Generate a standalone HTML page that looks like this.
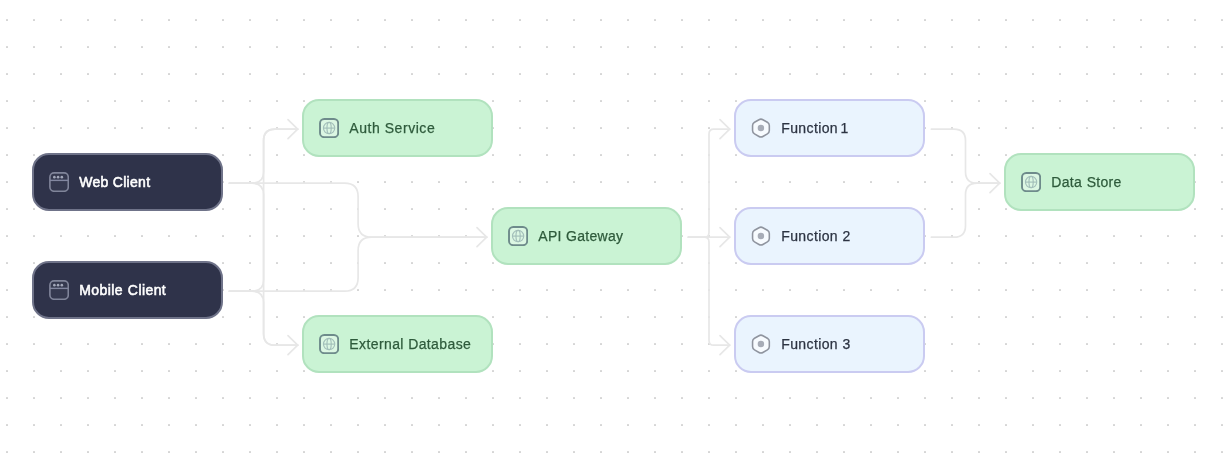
<!DOCTYPE html>
<html lang="en">
<head>
<meta charset="utf-8">
<title>Architecture Diagram</title>
<style>
html,body{margin:0;padding:0;}
body{width:1226px;height:453px;overflow:hidden;background:#fff;font-family:"Liberation Sans",Arial,sans-serif;position:relative;}
#canvas{position:absolute;left:0;top:0;width:1226px;height:453px;overflow:hidden;background-color:#fff;
}
svg.edges{position:absolute;left:0;top:0;width:1226px;height:453px;}
svg.edges path{fill:none;stroke:#e7e7e7;stroke-width:1.7;stroke-linecap:round;stroke-linejoin:round;}
.node{position:absolute;box-sizing:border-box;width:191px;height:58px;border-radius:17px;border:2px solid;
 display:flex;align-items:center;padding-left:15px;font-size:14px;line-height:16px;white-space:nowrap;will-change:transform;}
.node .ic{width:20.2px;height:20.2px;flex:none;margin-right:10.1px;display:block;position:relative;top:0.4px;}
.node span{display:block;position:relative;top:0.2px;-webkit-text-stroke:0.25px currentColor;}
.dark span{-webkit-text-stroke:0.55px currentColor;}
.dark{background:#2f334a;border-color:#6f7389;color:#fff;}
.green{background:#caf3d4;border-color:#b1e2be;color:#2e5a3b;}
.blue{background:#eaf4fe;border-color:#cacbf1;color:#2c3342;}
</style>
</head>
<body>
<div id="canvas">
<svg class="edges" viewBox="0 0 1226 453">
<defs><pattern id="dots" x="6" y="19" width="27" height="27" patternUnits="userSpaceOnUse"><rect x="0" y="0" width="2" height="2" rx="0.4" fill="#d3d3d3"/></pattern></defs>
<rect x="0" y="0" width="1226" height="453" fill="url(#dots)"/>
<path d="M229.4 183.2H252.0Q263.6 183.2 263.6 171.7V140.7Q263.6 129.2 275.1 129.2H297.7"/>
<path d="M229.4 183.2H344.6Q358.1 183.2 358.1 196.7V223.7Q358.1 237.2 371.6 237.2H486.7"/>
<path d="M229.4 183.2H252.0Q263.6 183.2 263.6 194.7V333.7Q263.6 345.2 275.1 345.2H297.7"/>
<path d="M229.4 291.2H252.0Q263.6 291.2 263.6 279.7V140.7Q263.6 129.2 275.1 129.2H297.7"/>
<path d="M229.4 291.2H344.6Q358.1 291.2 358.1 277.7V250.7Q358.1 237.2 371.6 237.2H486.7"/>
<path d="M229.4 291.2H252.0Q263.6 291.2 263.6 302.7V333.7Q263.6 345.2 275.1 345.2H297.7"/>
<path d="M688.4 237.2H704.3Q709.0 237.2 709.0 232.4V134.0Q709.0 129.2 713.8 129.2H729.7"/>
<path d="M688.4 237.2H729.7"/>
<path d="M688.4 237.2H704.3Q709.0 237.2 709.0 242.0V340.4Q709.0 345.2 713.8 345.2H729.7"/>
<path d="M931.4 129.2H954.0Q965.5 129.2 965.5 140.7V171.7Q965.5 183.2 977.1 183.2H999.7"/>
<path d="M931.4 237.2H954.0Q965.5 237.2 965.5 225.7V194.7Q965.5 183.2 977.1 183.2H999.7"/>
<path d="M288.0 119.7L297.7 129.2L288.0 138.7"/>
<path d="M288.0 335.7L297.7 345.2L288.0 354.7"/>
<path d="M477.0 227.7L486.7 237.2L477.0 246.7"/>
<path d="M720.0 119.7L729.7 129.2L720.0 138.7"/>
<path d="M720.0 227.7L729.7 237.2L720.0 246.7"/>
<path d="M720.0 335.7L729.7 345.2L720.0 354.7"/>
<path d="M990.0 173.7L999.7 183.2L990.0 192.7"/>
</svg>
<div class="node dark" style="left:32px;top:153px;"><svg class="ic" viewBox="0 0 20 20"><rect x="0.9" y="0.9" width="18.2" height="18.2" rx="4.2" fill="rgba(255,255,255,0.03)" stroke="#80859a" stroke-width="1.6"/><path d="M1 8.3H19" stroke="#8287a0" stroke-width="1.4" fill="none"/><circle cx="5.3" cy="5.1" r="1.3" fill="#a3a8ba"/><circle cx="9" cy="5.1" r="1.3" fill="#a3a8ba"/><circle cx="12.7" cy="5.1" r="1.3" fill="#a3a8ba"/></svg><span style="letter-spacing:0.28px">Web Client</span></div>
<div class="node dark" style="left:32px;top:261px;"><svg class="ic" viewBox="0 0 20 20"><rect x="0.9" y="0.9" width="18.2" height="18.2" rx="4.2" fill="rgba(255,255,255,0.03)" stroke="#80859a" stroke-width="1.6"/><path d="M1 8.3H19" stroke="#8287a0" stroke-width="1.4" fill="none"/><circle cx="5.3" cy="5.1" r="1.3" fill="#a3a8ba"/><circle cx="9" cy="5.1" r="1.3" fill="#a3a8ba"/><circle cx="12.7" cy="5.1" r="1.3" fill="#a3a8ba"/></svg><span style="letter-spacing:0.42px;word-spacing:0.5px">Mobile Client</span></div>
<div class="node green" style="left:302px;top:99px;"><svg class="ic" viewBox="0 0 20 20"><rect x="1" y="1" width="18" height="18" rx="4.2" fill="rgba(255,255,255,0.35)" stroke="#6e8b8b" stroke-width="1.9"/><g fill="none" stroke="#a3bfba" stroke-width="1.15"><circle cx="10" cy="10" r="5.6"/><ellipse cx="10" cy="10" rx="2.1" ry="5.6"/><path d="M4.4 10H15.6"/></g></svg><span style="letter-spacing:0.55px">Auth Service</span></div>
<div class="node green" style="left:302px;top:315px;"><svg class="ic" viewBox="0 0 20 20"><rect x="1" y="1" width="18" height="18" rx="4.2" fill="rgba(255,255,255,0.35)" stroke="#6e8b8b" stroke-width="1.9"/><g fill="none" stroke="#a3bfba" stroke-width="1.15"><circle cx="10" cy="10" r="5.6"/><ellipse cx="10" cy="10" rx="2.1" ry="5.6"/><path d="M4.4 10H15.6"/></g></svg><span style="letter-spacing:0.4px">External Database</span></div>
<div class="node green" style="left:491px;top:207px;"><svg class="ic" viewBox="0 0 20 20"><rect x="1" y="1" width="18" height="18" rx="4.2" fill="rgba(255,255,255,0.35)" stroke="#6e8b8b" stroke-width="1.9"/><g fill="none" stroke="#a3bfba" stroke-width="1.15"><circle cx="10" cy="10" r="5.6"/><ellipse cx="10" cy="10" rx="2.1" ry="5.6"/><path d="M4.4 10H15.6"/></g></svg><span style="letter-spacing:0.3px">API Gateway</span></div>
<div class="node blue" style="left:734px;top:99px;"><svg class="ic" viewBox="0 0 20 20"><path d="M7.94 1.68Q9.85 0.60 11.76 1.68L16.24 4.22Q18.15 5.30 18.15 7.50L18.15 12.50Q18.15 14.70 16.24 15.78L11.76 18.32Q9.85 19.40 7.94 18.32L3.46 15.78Q1.55 14.70 1.55 12.50L1.55 7.50Q1.55 5.30 3.46 4.22Z" fill="rgba(255,255,255,0.6)" stroke="#8f949f" stroke-width="1.55" stroke-linejoin="round"/><circle cx="9.8" cy="9.9" r="3.2" fill="#a7acb7"/></svg><span style="letter-spacing:0.37px;word-spacing:-1.6px">Function 1</span></div>
<div class="node blue" style="left:734px;top:207px;"><svg class="ic" viewBox="0 0 20 20"><path d="M7.94 1.68Q9.85 0.60 11.76 1.68L16.24 4.22Q18.15 5.30 18.15 7.50L18.15 12.50Q18.15 14.70 16.24 15.78L11.76 18.32Q9.85 19.40 7.94 18.32L3.46 15.78Q1.55 14.70 1.55 12.50L1.55 7.50Q1.55 5.30 3.46 4.22Z" fill="rgba(255,255,255,0.6)" stroke="#8f949f" stroke-width="1.55" stroke-linejoin="round"/><circle cx="9.8" cy="9.9" r="3.2" fill="#a7acb7"/></svg><span style="letter-spacing:0.37px;word-spacing:0.4px">Function 2</span></div>
<div class="node blue" style="left:734px;top:315px;"><svg class="ic" viewBox="0 0 20 20"><path d="M7.94 1.68Q9.85 0.60 11.76 1.68L16.24 4.22Q18.15 5.30 18.15 7.50L18.15 12.50Q18.15 14.70 16.24 15.78L11.76 18.32Q9.85 19.40 7.94 18.32L3.46 15.78Q1.55 14.70 1.55 12.50L1.55 7.50Q1.55 5.30 3.46 4.22Z" fill="rgba(255,255,255,0.6)" stroke="#8f949f" stroke-width="1.55" stroke-linejoin="round"/><circle cx="9.8" cy="9.9" r="3.2" fill="#a7acb7"/></svg><span style="letter-spacing:0.37px;word-spacing:0.4px">Function 3</span></div>
<div class="node green" style="left:1004px;top:153px;"><svg class="ic" viewBox="0 0 20 20"><rect x="1" y="1" width="18" height="18" rx="4.2" fill="rgba(255,255,255,0.35)" stroke="#6e8b8b" stroke-width="1.9"/><g fill="none" stroke="#a3bfba" stroke-width="1.15"><circle cx="10" cy="10" r="5.6"/><ellipse cx="10" cy="10" rx="2.1" ry="5.6"/><path d="M4.4 10H15.6"/></g></svg><span style="letter-spacing:0.27px;word-spacing:0.6px">Data Store</span></div>
</div>
</body>
</html>
